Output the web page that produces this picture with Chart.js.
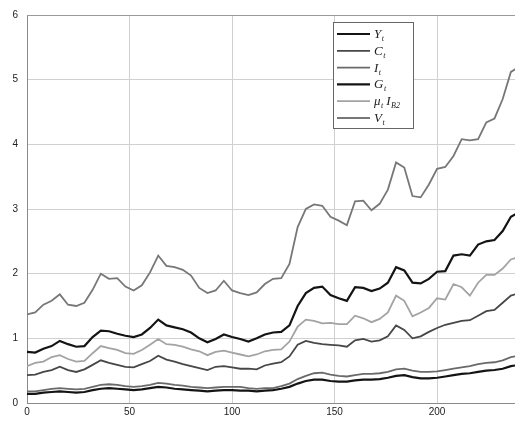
<!DOCTYPE html>
<html>
<head>
<meta charset="utf-8">
<script src="https://cdn.jsdelivr.net/npm/chart.js@4.4.1/dist/chart.umd.min.js"></script>
<style>
  html, body { margin: 0; padding: 0; background: #fff; }
  canvas { display: block; }
</style>
</head>
<body>
<canvas id="chart" width="515" height="422"></canvas>
<script>
// time index (every 4th period)
const periods = [0,4,8,12,16,20,24,28,32,36,40,44,48,52,56,60,64,68,72,76,80,84,88,92,96,100,
  104,108,112,116,120,124,128,132,136,140,144,148,152,156,160,164,168,172,176,180,184,188,192,196,
  200,204,208,212,216,220,224,228,232,236,240];

const yt = [0.79,0.78,0.84,0.88,0.96,0.91,0.87,0.88,1.02,1.12,1.11,1.07,1.04,1.02,1.06,1.16,1.29,1.20,1.17,1.14,
  1.09,1.00,0.94,0.99,1.06,1.02,0.99,0.95,1.00,1.06,1.09,1.10,1.20,1.50,1.70,1.78,1.80,1.67,1.62,1.58,
  1.79,1.78,1.73,1.77,1.86,2.10,2.05,1.86,1.85,1.92,2.03,2.04,2.28,2.30,2.28,2.45,2.50,2.52,2.66,2.88,2.95];

const ct = [0.43,0.44,0.48,0.51,0.56,0.51,0.48,0.52,0.59,0.66,0.62,0.59,0.56,0.55,0.60,0.65,0.73,0.67,0.64,0.60,
  0.57,0.54,0.51,0.56,0.57,0.55,0.53,0.53,0.52,0.58,0.61,0.63,0.72,0.90,0.96,0.93,0.91,0.90,0.89,0.87,
  0.97,0.99,0.95,0.97,1.03,1.20,1.13,1.00,1.03,1.10,1.16,1.21,1.24,1.27,1.28,1.35,1.42,1.44,1.55,1.66,1.70];

const it = [0.18,0.18,0.20,0.22,0.23,0.22,0.21,0.22,0.25,0.28,0.29,0.28,0.26,0.25,0.26,0.28,0.31,0.30,0.28,0.27,
  0.25,0.24,0.23,0.24,0.25,0.25,0.25,0.23,0.22,0.23,0.23,0.26,0.30,0.37,0.42,0.46,0.47,0.44,0.42,0.41,
  0.43,0.45,0.45,0.46,0.48,0.52,0.53,0.50,0.48,0.48,0.49,0.51,0.53,0.55,0.57,0.60,0.62,0.63,0.66,0.71,0.73];

const gt = [0.14,0.14,0.16,0.17,0.18,0.17,0.16,0.17,0.20,0.22,0.23,0.22,0.21,0.20,0.21,0.23,0.25,0.24,0.22,0.21,
  0.20,0.19,0.18,0.19,0.20,0.20,0.19,0.19,0.18,0.19,0.20,0.22,0.25,0.30,0.34,0.36,0.36,0.34,0.33,0.33,
  0.35,0.36,0.36,0.37,0.39,0.42,0.43,0.40,0.38,0.38,0.39,0.41,0.43,0.45,0.46,0.48,0.50,0.51,0.53,0.57,0.59];

const muIb = [0.57,0.62,0.64,0.71,0.74,0.68,0.64,0.65,0.77,0.88,0.85,0.82,0.77,0.76,0.82,0.90,0.99,0.91,0.90,0.87,
  0.83,0.80,0.74,0.79,0.81,0.78,0.75,0.72,0.75,0.80,0.82,0.83,0.95,1.18,1.29,1.27,1.23,1.24,1.22,1.22,
  1.35,1.31,1.25,1.30,1.40,1.66,1.58,1.34,1.40,1.47,1.62,1.60,1.84,1.79,1.66,1.86,1.98,1.98,2.08,2.22,2.26];

const vt = [1.37,1.40,1.52,1.58,1.68,1.52,1.50,1.55,1.75,2.00,1.92,1.93,1.80,1.74,1.82,2.02,2.28,2.12,2.10,2.06,
  1.97,1.78,1.70,1.74,1.89,1.74,1.70,1.67,1.71,1.84,1.92,1.93,2.15,2.72,3.00,3.07,3.05,2.88,2.82,2.75,
  3.12,3.13,2.98,3.08,3.30,3.72,3.64,3.20,3.18,3.38,3.62,3.65,3.82,4.08,4.06,4.08,4.34,4.40,4.70,5.12,5.20];

const xTicks = [0, 50, 100, 150, 200];
const yTicks = [0, 1, 2, 3, 4, 5, 6];

// legend entries: [main, subscript] pieces
const series = [
  { name: [['Y', 't']], values: yt, color: '#141414', width: 2.2 },
  { name: [['C', 't']], values: ct, color: '#474747', width: 1.8 },
  { name: [['I', 't']], values: it, color: '#6a6a6a', width: 1.8 },
  { name: [['G', 't']], values: gt, color: '#141414', width: 2.2 },
  { name: [['\u03bc', 't'], ['I', 'B2']], values: muIb, color: '#a3a3a3', width: 1.8 },
  { name: [['V', 't']], values: vt, color: '#777777', width: 1.8 },
];

const toPoints = (vals) => periods.map((p, i) => ({ x: p, y: vals[i] }));

const legendBox = {
  id: 'legendBox',
  afterDraw(chart) {
    const ctx = chart.ctx;
    const left = 333.5, top = 22.5, w = 80, h = 106;
    ctx.save();
    ctx.fillStyle = '#fff';
    ctx.fillRect(left, top, w, h);
    ctx.strokeStyle = '#666';
    ctx.lineWidth = 1;
    ctx.strokeRect(left, top, w, h);
    ctx.textBaseline = 'alphabetic';
    series.forEach((s, i) => {
      const y = 34 + i * 16.8;
      ctx.strokeStyle = s.color;
      ctx.lineWidth = s.width;
      ctx.beginPath();
      ctx.moveTo(337, y);
      ctx.lineTo(370, y);
      ctx.stroke();
      ctx.fillStyle = '#222';
      let x = 374;
      s.name.forEach(([main, sub], k) => {
        if (k > 0) x += 3;
        ctx.font = 'italic 13px "Liberation Serif", serif';
        ctx.fillText(main, x, y + 4);
        x += ctx.measureText(main).width;
        ctx.font = 'italic 8px "Liberation Serif", serif';
        ctx.fillText(sub, x + 0.5, y + 7);
        x += ctx.measureText(sub).width + 0.5;
      });
    });
    ctx.restore();
  }
};

const frameTop = {
  id: 'frameTop',
  beforeDatasetsDraw(chart) {
    const { ctx, chartArea } = chart;
    ctx.save();
    ctx.strokeStyle = '#9a9a9a';
    ctx.lineWidth = 1;
    ctx.beginPath();
    ctx.moveTo(chartArea.left, chartArea.top + 0.5);
    ctx.lineTo(chartArea.right, chartArea.top + 0.5);
    ctx.stroke();
    ctx.restore();
  }
};

new Chart(document.getElementById('chart'), {
  type: 'line',
  data: {
    datasets: series.map((s) => ({
      label: s.name.map((p) => p.join('')).join(' '),
      data: toPoints(s.values),
      borderColor: s.color,
      borderWidth: s.width,
      pointRadius: 0,
      fill: false,
      tension: 0,
    })),
  },
  options: {
    responsive: false,
    animation: false,
    devicePixelRatio: 1,
    layout: { padding: { top: 11, right: 0, left: 0, bottom: 0 } },
    plugins: { legend: { display: false }, tooltip: { enabled: false } },
    scales: {
      x: {
        type: 'linear',
        min: 0,
        max: 238,
        afterFit: (scale) => { scale.height = 19; },
        afterBuildTicks: (scale) => { scale.ticks = xTicks.map((v) => ({ value: v })); },
        ticks: { padding: 3, color: '#222', font: { family: 'Liberation Sans', size: 10 }, maxRotation: 0 },
        grid: { color: '#d0d0d0', drawTicks: false },
        border: { color: '#8a8a8a' },
      },
      y: {
        min: 0,
        max: 6,
        afterFit: (scale) => { scale.width = 27; },
        afterBuildTicks: (scale) => { scale.ticks = yTicks.map((v) => ({ value: v })); },
        ticks: { padding: 9, color: '#222', font: { family: 'Liberation Sans', size: 10 } },
        grid: { color: '#d0d0d0', drawTicks: false },
        border: { color: '#8a8a8a' },
      },
    },
  },
  plugins: [frameTop, legendBox],
});
</script>
</body>
</html>
